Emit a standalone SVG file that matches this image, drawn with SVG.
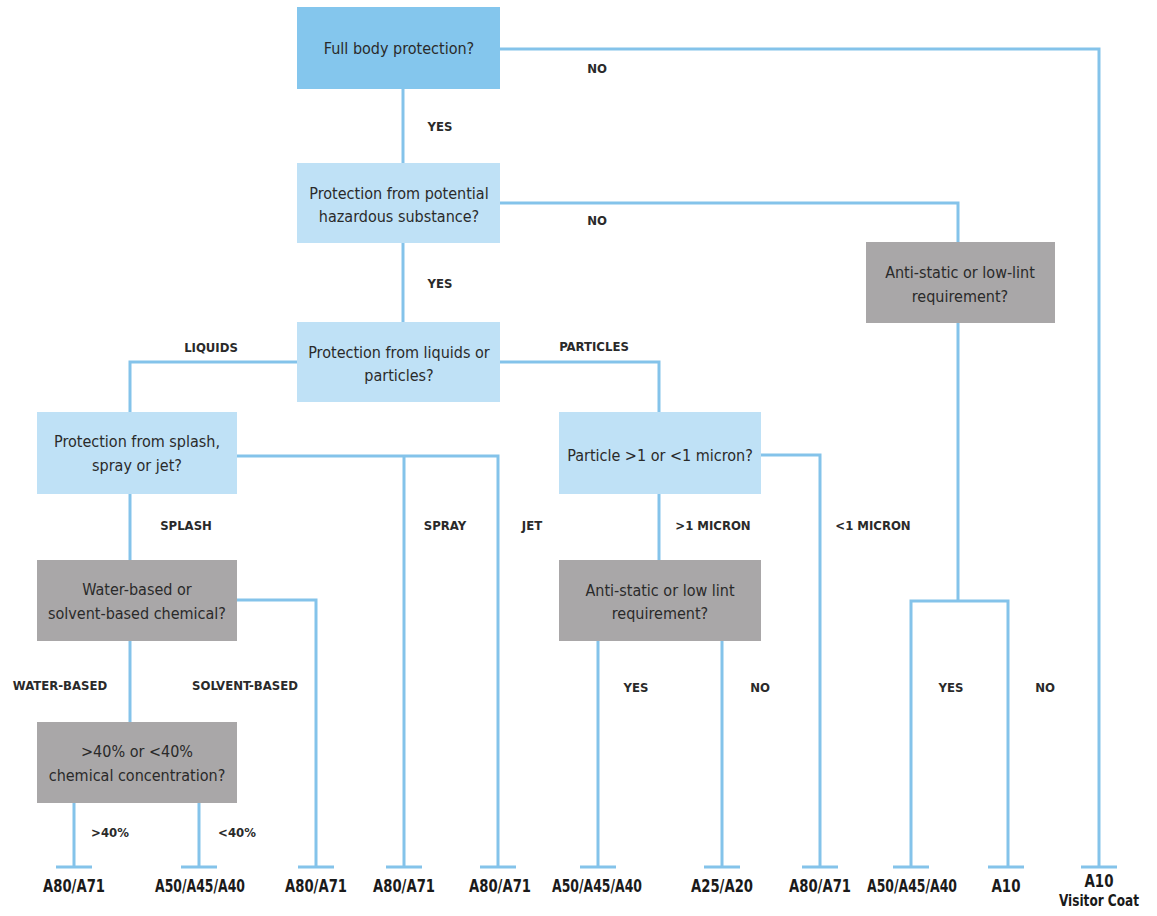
<svg xmlns="http://www.w3.org/2000/svg" width="1157" height="916" viewBox="0 0 1157 916">
<style>
.bx{stroke:none}
.b1{fill:#84c6ed}
.b2{fill:#bfe1f6}
.g{fill:#a9a7a8}
.t{font-family:"DejaVu Sans Condensed","Liberation Sans",sans-serif;font-size:16px;fill:#2a2a2a;text-anchor:middle}
.l{font-family:"DejaVu Sans Condensed","Liberation Sans",sans-serif;font-size:13px;font-weight:bold;fill:#2a2a2a;text-anchor:middle}
.e{font-family:"DejaVu Sans Condensed","Liberation Sans",sans-serif;font-size:17px;font-weight:bold;fill:#1a1a1a;text-anchor:middle}
.v{font-size:15px}
.c{fill:none;stroke:#84c3ea;stroke-width:3}
</style>
<rect width="1157" height="916" fill="#ffffff"/>
<g id="connectors">
<path class="c" d="M500,49 H1099 V867"/>
<path class="c" d="M403,89 V163"/>
<path class="c" d="M500,203 H958 V242"/>
<path class="c" d="M403,243 V322"/>
<path class="c" d="M298,362 H130 V412"/>
<path class="c" d="M500,362 H659 V412"/>
<path class="c" d="M237,456 H498 V867 M404,456 V867"/>
<path class="c" d="M130,494 V560"/>
<path class="c" d="M237,600 H316 V867"/>
<path class="c" d="M130,641 V722"/>
<path class="c" d="M74,803 V867 M199,803 V867"/>
<path class="c" d="M761,455 H820 V867"/>
<path class="c" d="M659,494 V560"/>
<path class="c" d="M598,641 V867 M722,641 V867"/>
<path class="c" d="M958,322 V601 M911,867 V601 H1008 V867"/>
<path class="c" d="M56,867 H92 M181,867 H217 M298,867 H334 M386,867 H422 M480,867 H516 M580,867 H616 M704,867 H740 M802,867 H838 M893,867 H929 M988,867 H1024 M1081,867 H1117"/>
</g>
<g id="n1"><rect class="bx b1" x="297" y="7" width="203" height="82"/><text class="t" x="399" y="54">Full body protection?</text></g>
<g id="n2"><rect class="bx b2" x="297" y="163" width="203" height="80"/><text class="t" x="399" y="199">Protection from potential</text><text class="t" x="399" y="222">hazardous substance?</text></g>
<g id="n3"><rect class="bx b2" x="297" y="322" width="203" height="80"/><text class="t" x="399" y="358">Protection from liquids or</text><text class="t" x="399" y="381">particles?</text></g>
<g id="n4"><rect class="bx b2" x="37" y="412" width="200" height="82"/><text class="t" x="137" y="447">Protection from splash,</text><text class="t" x="137" y="471">spray or jet?</text></g>
<g id="n5"><rect class="bx b2" x="559" y="412" width="202" height="82"/><text class="t" x="660" y="461">Particle &gt;1 or &lt;1 micron?</text></g>
<g id="n6"><rect class="bx g" x="37" y="560" width="200" height="81"/><text class="t" x="137" y="595">Water-based or</text><text class="t" x="137" y="619">solvent-based chemical?</text></g>
<g id="n7"><rect class="bx g" x="37" y="722" width="200" height="81"/><text class="t" x="137" y="757">&gt;40% or &lt;40%</text><text class="t" x="137" y="781">chemical concentration?</text></g>
<g id="n8"><rect class="bx g" x="559" y="560" width="202" height="81"/><text class="t" x="660" y="596">Anti-static or low lint</text><text class="t" x="660" y="619">requirement?</text></g>
<g id="n9"><rect class="bx g" x="866" y="242" width="189" height="81"/><text class="t" x="960" y="278">Anti-static or low-lint</text><text class="t" x="960" y="302">requirement?</text></g>
<g id="labels">
<text class="l" x="597" y="73">NO</text>
<text class="l" x="440" y="131">YES</text>
<text class="l" x="597" y="225">NO</text>
<text class="l" x="440" y="288">YES</text>
<text class="l" x="211" y="352">LIQUIDS</text>
<text class="l" x="594" y="351">PARTICLES</text>
<text class="l" x="186" y="530">SPLASH</text>
<text class="l" x="445" y="530">SPRAY</text>
<text class="l" x="532" y="530">JET</text>
<text class="l" x="713" y="530">&gt;1 MICRON</text>
<text class="l" x="873" y="530">&lt;1 MICRON</text>
<text class="l" x="60" y="690">WATER-BASED</text>
<text class="l" x="245" y="690">SOLVENT-BASED</text>
<text class="l" x="636" y="692">YES</text>
<text class="l" x="760" y="692">NO</text>
<text class="l" x="951" y="692">YES</text>
<text class="l" x="1045" y="692">NO</text>
<text class="l" x="110" y="837">&gt;40%</text>
<text class="l" x="237" y="837">&lt;40%</text>
</g>
<g id="ends">
<text class="e" x="74" y="892" textLength="62" lengthAdjust="spacingAndGlyphs">A80/A71</text>
<text class="e" x="200" y="892" textLength="90" lengthAdjust="spacingAndGlyphs">A50/A45/A40</text>
<text class="e" x="316" y="892" textLength="62" lengthAdjust="spacingAndGlyphs">A80/A71</text>
<text class="e" x="404" y="892" textLength="62" lengthAdjust="spacingAndGlyphs">A80/A71</text>
<text class="e" x="500" y="892" textLength="62" lengthAdjust="spacingAndGlyphs">A80/A71</text>
<text class="e" x="597" y="892" textLength="90" lengthAdjust="spacingAndGlyphs">A50/A45/A40</text>
<text class="e" x="722" y="892" textLength="62" lengthAdjust="spacingAndGlyphs">A25/A20</text>
<text class="e" x="820" y="892" textLength="62" lengthAdjust="spacingAndGlyphs">A80/A71</text>
<text class="e" x="912" y="892" textLength="90" lengthAdjust="spacingAndGlyphs">A50/A45/A40</text>
<text class="e" x="1006" y="892" textLength="29" lengthAdjust="spacingAndGlyphs">A10</text>
<text class="e" x="1099" y="887" textLength="29" lengthAdjust="spacingAndGlyphs">A10</text>
<text class="e v" x="1099" y="906" textLength="80" lengthAdjust="spacingAndGlyphs">Visitor Coat</text>
</g>
</svg>
